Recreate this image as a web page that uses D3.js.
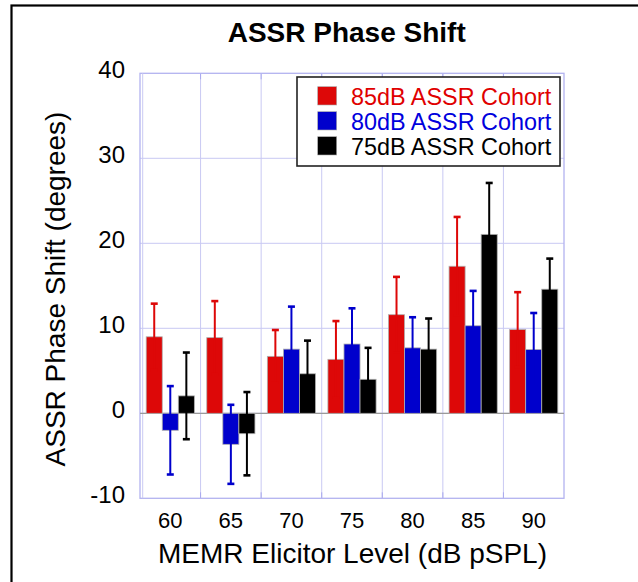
<!DOCTYPE html>
<html>
<head>
<meta charset="utf-8">
<script src="https://cdn.jsdelivr.net/npm/d3@7"></script>
<style>
  body { margin: 0; background: #fff; }
  svg { display: block; font-family: "Liberation Sans", Arial, sans-serif; }
</style>
</head>
<body>
<svg id="chart" width="638" height="582"></svg>
<script>
// MEMR elicitor levels (x categories)
const levels = ["60", "65", "70", "75", "80", "85", "90"];
const cohorts = ["85dB ASSR Cohort", "80dB ASSR Cohort", "75dB ASSR Cohort"];
const cohortColors = ["#dd0808", "#0000cc", "#000000"];
const legendTextColors = ["#e00000", "#0000dd", "#000000"];

// mean phase shift per cohort, one value per level
const mean85 = [9.0, 8.9, 6.7, 6.35, 11.6, 17.3, 9.85];
const mean80 = [-2.0, -3.65, 7.55, 8.15, 7.7, 10.3, 7.5];
const mean75 = [2.05, -2.4, 4.65, 4.0, 7.55, 21.05, 14.6];

// error bar half-lengths
const err85 = [3.9, 4.3, 3.1, 4.5, 4.45, 5.8, 4.4];
const err80 = [5.2, 4.65, 5.0, 4.2, 3.6, 4.1, 4.3];
const err75 = [5.1, 4.9, 3.9, 3.7, 3.6, 6.05, 3.6];

const yTicks = [-10, 0, 10, 20, 30, 40];

const means = [mean85, mean80, mean75];
const errs = [err85, err80, err75];

const rows = [];
levels.forEach((lvl, i) => {
  cohorts.forEach((c, j) => {
    rows.push({ level: lvl, cohort: c, idx: j, value: means[j][i], err: errs[j][i] });
  });
});

const svg = d3.select("#chart");
const plot = { left: 140, right: 564, top: 73.3, bottom: 498.3 };

// outer frame (runs off the right and bottom edges)
svg.append("rect")
  .attr("x", 11.5).attr("y", 5.5)
  .attr("width", 700).attr("height", 700)
  .attr("fill", "none").attr("stroke", "#000").attr("stroke-width", 2.2);

const x0 = d3.scaleBand().domain(levels).range([plot.left, plot.right]);
const x1 = d3.scaleBand().domain(cohorts).range([6.2, x0.bandwidth() - 6.2]);
const y = d3.scaleLinear().domain([-10, 40]).range([plot.bottom, plot.top]);

// grid
const grid = svg.append("g").attr("stroke", "#c9c9f3").attr("stroke-width", 1);
grid.selectAll("line.h")
  .data(yTicks.filter((t) => t > -10 && t < 40))
  .join("line")
  .attr("x1", plot.left).attr("x2", plot.right)
  .attr("y1", (d) => y(d)).attr("y2", (d) => y(d));
grid.selectAll("line.v")
  .data(levels.slice(1))
  .join("line")
  .attr("x1", (d) => x0(d)).attr("x2", (d) => x0(d))
  .attr("y1", plot.top).attr("y2", plot.bottom);

// small ticks along top and bottom edges
const tickG = svg.append("g").attr("stroke", "#a9a9ee").attr("stroke-width", 1);
levels.slice(1).forEach((d) => {
  tickG.append("line").attr("x1", x0(d)).attr("x2", x0(d)).attr("y1", plot.top).attr("y2", plot.top + 6);
  tickG.append("line").attr("x1", x0(d)).attr("x2", x0(d)).attr("y1", plot.bottom - 6).attr("y2", plot.bottom);
});

// plot frame
svg.append("rect")
  .attr("x", plot.left).attr("y", plot.top)
  .attr("width", plot.right - plot.left).attr("height", plot.bottom - plot.top)
  .attr("fill", "none").attr("stroke", "#b3b3f0").attr("stroke-width", 1.3);
svg.append("line")
  .attr("x1", plot.left + 2.7).attr("x2", plot.left + 2.7)
  .attr("y1", plot.top).attr("y2", plot.bottom)
  .attr("stroke", "#c9c9f3").attr("stroke-width", 1);

// zero line
svg.append("line")
  .attr("x1", plot.left).attr("x2", plot.right)
  .attr("y1", y(0)).attr("y2", y(0))
  .attr("stroke", "#9a9a9a").attr("stroke-width", 1.2);

// bars
svg.append("g")
  .selectAll("rect")
  .data(rows)
  .join("rect")
  .attr("x", (d) => x0(d.level) + x1(d.cohort))
  .attr("width", x1.bandwidth())
  .attr("y", (d) => y(Math.max(0, d.value)))
  .attr("height", (d) => Math.abs(y(d.value) - y(0)))
  .attr("fill", (d) => cohortColors[d.idx])
  .attr("stroke", "#b0b0b0")
  .attr("stroke-width", 0.8);

// error bars
const eb = svg.append("g").selectAll("g").data(rows).join("g")
  .attr("stroke", (d) => cohortColors[d.idx])
  .attr("stroke-width", 2);
const cx = (d) => x0(d.level) + x1(d.cohort) + x1.bandwidth() / 2;
eb.append("line")
  .attr("x1", cx).attr("x2", cx)
  .attr("y1", (d) => y(d.value + d.err)).attr("y2", (d) => y(d.value - d.err));
eb.append("line")
  .attr("x1", (d) => cx(d) - 3.5).attr("x2", (d) => cx(d) + 3.5)
  .attr("y1", (d) => y(d.value + d.err)).attr("y2", (d) => y(d.value + d.err))
  .attr("stroke-width", 2.6);
eb.append("line")
  .attr("x1", (d) => cx(d) - 3.5).attr("x2", (d) => cx(d) + 3.5)
  .attr("y1", (d) => y(d.value - d.err)).attr("y2", (d) => y(d.value - d.err))
  .attr("stroke-width", 2.6);

// axes (labels only); plain hyphen for negatives
const yAxis = svg.append("g")
  .attr("transform", `translate(${plot.left},0)`)
  .call(d3.axisLeft(y).tickValues(yTicks).tickFormat((d) => String(d)).tickSize(0).tickPadding(15));
yAxis.select(".domain").remove();
yAxis.selectAll("text")
  .attr("y", -3)
  .attr("font-size", 24)
  .attr("font-family", "Liberation Sans, Arial, sans-serif")
  .attr("fill", "#000");

const xAxis = svg.append("g")
  .attr("transform", `translate(0,${plot.bottom})`)
  .call(d3.axisBottom(x0).tickSize(0));
xAxis.select(".domain").remove();
xAxis.selectAll("text")
  .attr("y", 30).attr("dy", 0)
  .attr("font-size", 22)
  .attr("font-family", "Liberation Sans, Arial, sans-serif")
  .attr("fill", "#000");

// titles
svg.append("text")
  .attr("x", 346.7).attr("y", 41.7)
  .attr("text-anchor", "middle")
  .attr("font-size", 28).attr("font-weight", "bold")
  .text("ASSR Phase Shift");

svg.append("text")
  .attr("x", 352.5).attr("y", 563)
  .attr("text-anchor", "middle")
  .attr("font-size", 28)
  .text("MEMR Elicitor Level (dB pSPL)");

svg.append("text")
  .attr("transform", "translate(65,289) rotate(-90)")
  .attr("text-anchor", "middle")
  .attr("font-size", 28)
  .text("ASSR Phase Shift (degrees)");

// legend
const legend = svg.append("g").attr("transform", "translate(297,77)");
legend.append("rect")
  .attr("width", 263).attr("height", 89)
  .attr("fill", "#fff").attr("stroke", "#222").attr("stroke-width", 1.6);
const item = legend.selectAll("g.item")
  .data(cohorts)
  .join("g")
  .attr("transform", (d, i) => `translate(0,${i * 25})`);
item.append("rect")
  .attr("x", 20.7).attr("y", 9.7)
  .attr("width", 19).attr("height", 18.3)
  .attr("fill", (d, i) => cohortColors[i])
  .attr("stroke", "#aaa").attr("stroke-width", 0.6);
item.append("text")
  .attr("x", 54).attr("y", 28)
  .attr("font-size", 23.4)
  .attr("fill", (d, i) => legendTextColors[i])
  .text((d) => d);
</script>
</body>
</html>
